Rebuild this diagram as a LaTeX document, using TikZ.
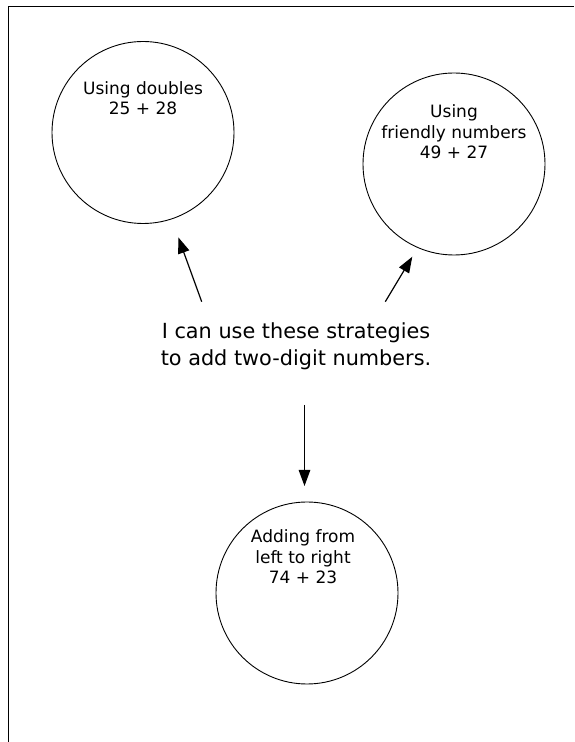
\documentclass[tikz,border=0pt]{standalone}
\usepackage{fontspec}
\setmainfont{DejaVu Sans}
\usetikzlibrary{positioning}
\usetikzlibrary{arrows.meta}

\begin{document}
\begin{tikzpicture}[x=1pt, y=1pt,
                    strat/.style={circle, draw, minimum size=182pt, inner sep=0pt, line width=0.9pt},
                    circtext/.style={font=\fontsize{17}{20.5}\selectfont, align=center, inner sep=0pt, anchor=north},
                    midtext/.style={font=\fontsize{20.8}{27}\selectfont, align=center, inner sep=0pt},
                    arr/.style={-{Triangle[length=16pt, width=11.5pt]}, line width=1.2pt},
                    frame/.style={line width=1.5pt}]
    \useasboundingbox (0,0) rectangle (574,742);

    % The three strategy circles
    \node [strat] (doubles)   at (143,609.5) {};
    \node [strat] (friendly)  at (454,578)   {};
    \node [strat] (leftright) at (307,149)   {};

    \node [circtext, below=40pt of doubles.north]   (doubles_txt)   {Using doubles\\25 + 28};
    \node [circtext, below=32pt of friendly.north]  (friendly_txt)  {Using\\friendly numbers\\49 + 27};
    \node [circtext, below=28pt of leftright.north, xshift=-4pt] (leftright_txt) {Adding from\\left to right\\74 + 23};

    % Middle statement
    \node [midtext, anchor=north] (mid) at (296,419) {I can use these strategies\\to add two-digit numbers.};

    % Arrow ends
    \coordinate (to_dbl_s)  at (201.7,440.3);
    \coordinate (to_dbl_e)  at (178.3,504.7);
    \coordinate (to_frn_s)  at (385.3,440.3);
    \coordinate (to_frn_e)  at (412.3,485.3);
    \coordinate (to_ltr_s)  at (304.5,337);
    \coordinate (to_ltr_e)  at (304.5,256);

    % Draw the frame
    \draw [frame] (8.5,0) -- (8.5,735.5) -- (574,735.5);
    % Draw the arrows
    \draw [arr] (to_dbl_s) -- (to_dbl_e);
    \draw [arr] (to_frn_s) -- (to_frn_e);
    \draw [arr] (to_ltr_s) -- (to_ltr_e);
\end{tikzpicture}
\end{document}
